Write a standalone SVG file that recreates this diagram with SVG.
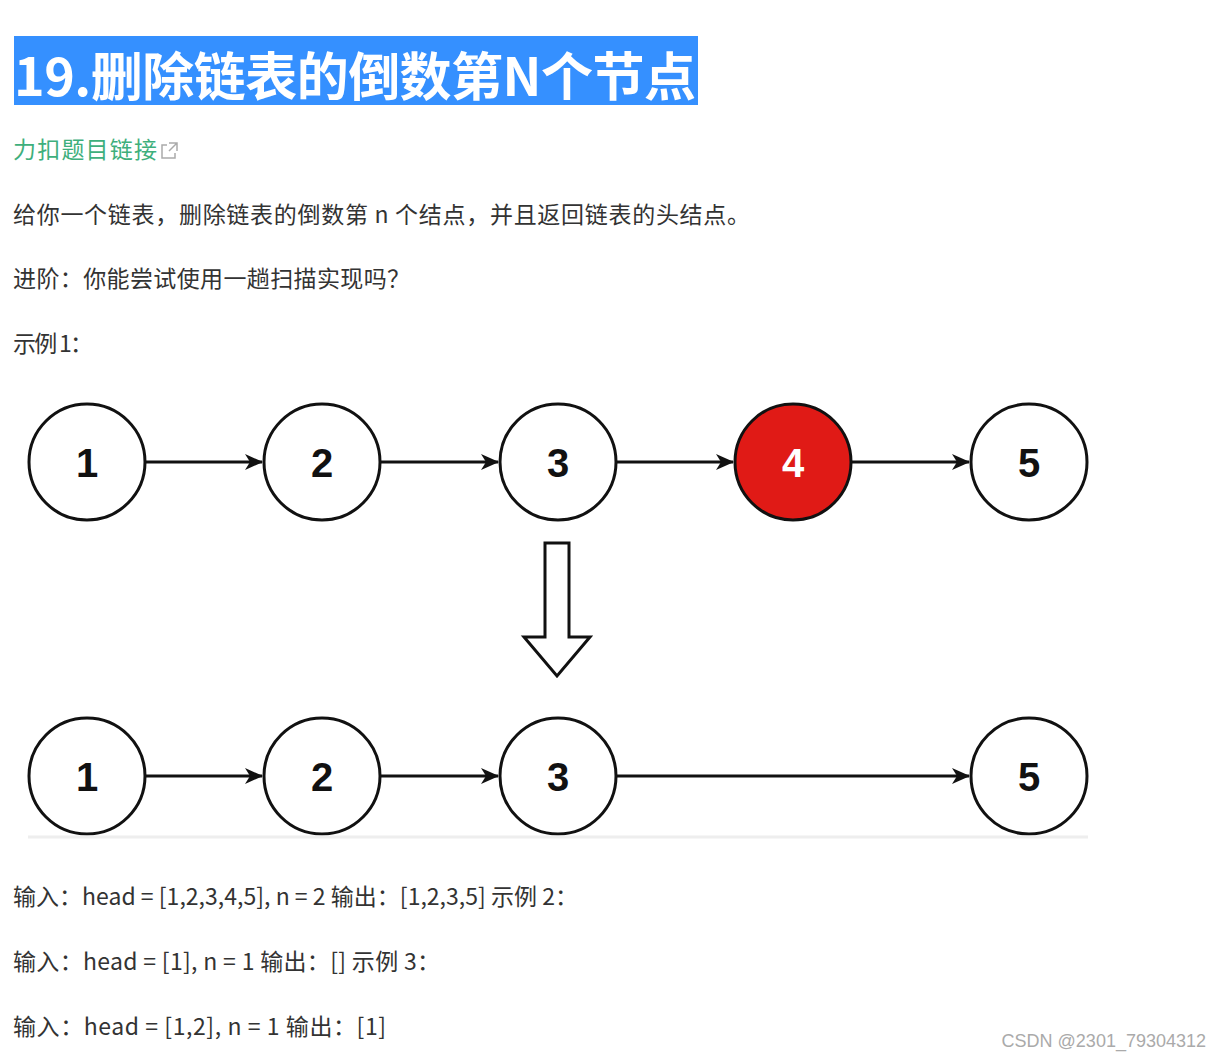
<svg xmlns="http://www.w3.org/2000/svg" width="1221" height="1059" viewBox="0 0 1221 1059">
<style>
.t{font-family:"Microsoft YaHei","Noto Sans CJK SC","Liberation Sans",sans-serif;font-size:23px;fill:#333}
.n{fill:#fff;stroke:#111;stroke-width:3}
.lbl{font-family:"Liberation Sans",Arial,sans-serif;font-weight:bold;font-size:40px;fill:#111;text-anchor:middle}
.e{stroke:#111;stroke-width:3;fill:none}
</style>
<defs>
<marker id="ah" markerWidth="18" markerHeight="16" refX="17" refY="8" orient="auto" markerUnits="userSpaceOnUse">
<path d="M0,0 L18,8 L0,16 L5,8 Z" fill="#111"/>
</marker>
</defs>
<rect width="1221" height="1059" fill="#fff"/>
<rect x="14" y="36" width="684" height="69" fill="#3590ff"/>
<text x="14" y="96" textLength="682" style="font-family:'Noto Sans CJK SC','Liberation Sans',sans-serif;font-weight:bold;font-size:52px;fill:#fff">19.删除链表的倒数第N个节点</text>
<text x="13" y="158" class="t" textLength="144" style="fill:#3eaf7c">力扣题目链接</text>
<g stroke="#aaa" stroke-width="1.5" fill="none"><path d="M167 145 h-5 v13 h13 v-5"/><path d="M169 143 h8 v8 M177 143 l-8 8"/></g>
<text x="13" y="223" class="t" textLength="737">给你一个链表，删除链表的倒数第 n 个结点，并且返回链表的头结点。</text>
<text x="13" y="287" class="t" textLength="397">进阶：你能尝试使用一趟扫描实现吗？</text>
<text x="13" y="352" class="t" textLength="80">示例 1：</text>
<g id="connectors">
<line class="e" x1="146" y1="462" x2="262" y2="462" marker-end="url(#ah)"/>
<line class="e" x1="381" y1="462" x2="498" y2="462" marker-end="url(#ah)"/>
<line class="e" x1="617" y1="462" x2="733" y2="462" marker-end="url(#ah)"/>
<line class="e" x1="852" y1="462" x2="969" y2="462" marker-end="url(#ah)"/>
<line class="e" x1="146" y1="776" x2="262" y2="776" marker-end="url(#ah)"/>
<line class="e" x1="381" y1="776" x2="498" y2="776" marker-end="url(#ah)"/>
<line class="e" x1="617" y1="776" x2="969" y2="776" marker-end="url(#ah)"/>
</g>
<g id="n1"><circle class="n" cx="87" cy="462" r="58"/><text class="lbl" x="87" y="477">1</text></g>
<g id="n2"><circle class="n" cx="322" cy="462" r="58"/><text class="lbl" x="322" y="477">2</text></g>
<g id="n3"><circle class="n" cx="558" cy="462" r="58"/><text class="lbl" x="558" y="477">3</text></g>
<g id="n4"><circle class="n" cx="793" cy="462" r="58" style="fill:#e01a16"/><text class="lbl" x="793" y="477" style="fill:#fff">4</text></g>
<g id="n5"><circle class="n" cx="1029" cy="462" r="58"/><text class="lbl" x="1029" y="477">5</text></g>
<g id="arrow"><path d="M545 543 H569 V637 H590 L557 676 L524 637 H545 Z" fill="#fff" stroke="#111" stroke-width="3" stroke-linejoin="miter"/></g>
<g id="m1"><circle class="n" cx="87" cy="776" r="58"/><text class="lbl" x="87" y="791">1</text></g>
<g id="m2"><circle class="n" cx="322" cy="776" r="58"/><text class="lbl" x="322" y="791">2</text></g>
<g id="m3"><circle class="n" cx="558" cy="776" r="58"/><text class="lbl" x="558" y="791">3</text></g>
<g id="m5"><circle class="n" cx="1029" cy="776" r="58"/><text class="lbl" x="1029" y="791">5</text></g>
<line x1="28" y1="837" x2="1088" y2="837" stroke="#eee" stroke-width="3"/>
<text x="13" y="905" class="t" textLength="565">输入：head = [1,2,3,4,5], n = 2 输出：[1,2,3,5] 示例 2：</text>
<text x="13" y="970" class="t" textLength="427">输入：head = [1], n = 1 输出：[] 示例 3：</text>
<text x="13" y="1035" class="t" textLength="373">输入：head = [1,2], n = 1 输出：[1]</text>
<text x="1206" y="1047" text-anchor="end" style="font-family:'Liberation Sans',sans-serif;font-size:18px;fill:#aaa">CSDN @2301_79304312</text>
</svg>
